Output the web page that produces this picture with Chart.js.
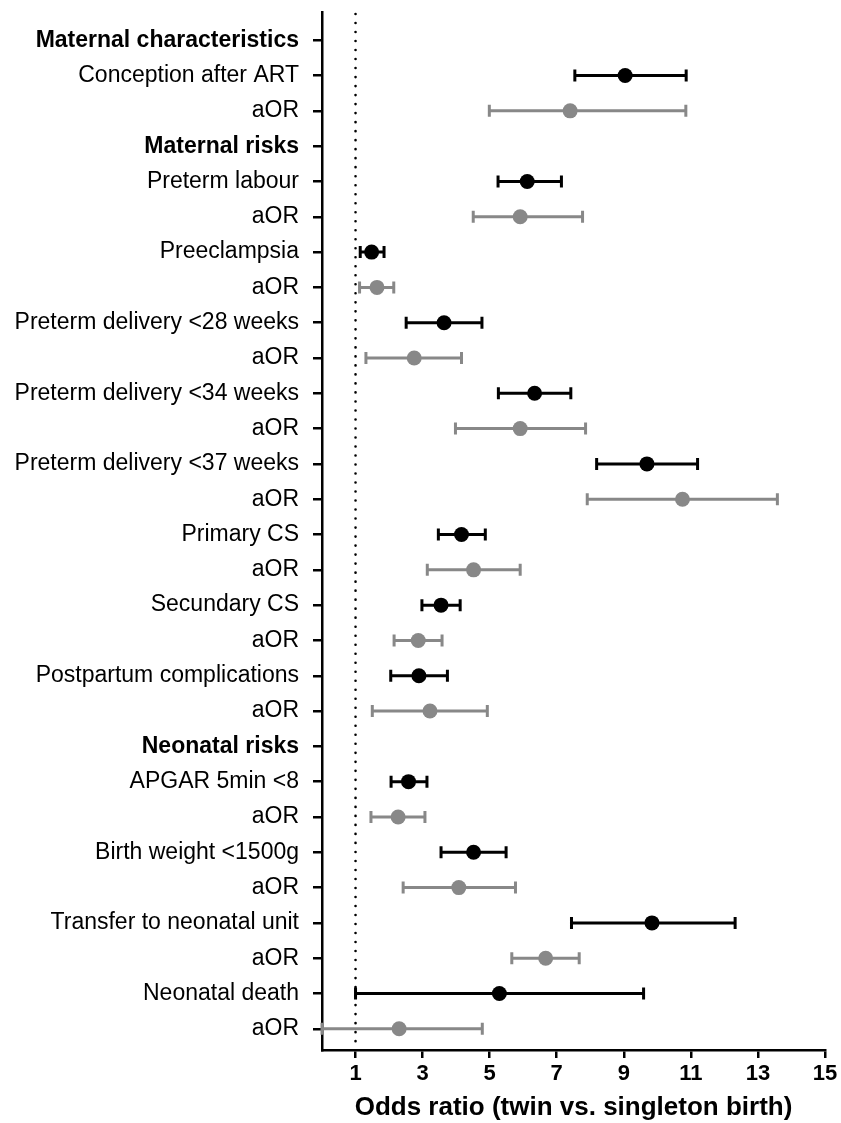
<!DOCTYPE html>
<html>
<head>
<meta charset="utf-8">
<script src="https://cdn.jsdelivr.net/npm/chart.js@4.4.1/dist/chart.umd.min.js"></script>
<style>
  html, body { margin: 0; padding: 0; background: #fff; }
  #wrap { width: 841px; height: 1123px; }
</style>
</head>
<body>
<div id="wrap"><canvas id="forest"></canvas></div>
<script>
// row labels, top to bottom
const rowLabels = [
    'Maternal characteristics',
    'Conception after ART', 'aOR',
    'Maternal risks',
    'Preterm labour', 'aOR',
    'Preeclampsia', 'aOR',
    'Preterm delivery <28 weeks', 'aOR',
    'Preterm delivery <34 weeks', 'aOR',
    'Preterm delivery <37 weeks', 'aOR',
    'Primary CS', 'aOR',
    'Secundary CS', 'aOR',
    'Postpartum complications', 'aOR',
    'Neonatal risks',
    'APGAR 5min <8', 'aOR',
    'Birth weight <1500g', 'aOR',
    'Transfer to neonatal unit', 'aOR',
    'Neonatal death', 'aOR'
]
const headerRows = [0, 3, 20]

// crude odds ratios (black)
const crudeRows = [1, 4, 6, 8, 10, 12, 14, 16, 18, 21, 23, 25, 27]
const crudeOR   = [9.04, 6.12, 1.48, 3.64, 6.34, 9.69, 4.16, 3.55, 2.89, 2.58, 4.52, 9.84, 5.29]
const crudeLow  = [7.54, 5.25, 1.14, 2.51, 5.26, 8.19, 3.47, 2.98, 2.05, 2.06, 3.55, 7.44, 1.00]
const crudeHigh = [10.86, 7.14, 1.85, 4.77, 7.42, 11.2, 4.87, 4.12, 3.74, 3.13, 5.49, 12.32, 9.59]

// adjusted odds ratios (grey)
const adjRows = [2, 5, 7, 9, 11, 13, 15, 17, 19, 22, 24, 26, 28]
const adjOR   = [7.40, 5.91, 1.64, 2.75, 5.91, 10.75, 4.52, 2.87, 3.22, 2.27, 4.08, 6.67, 2.30]
const adjLow  = [4.99, 4.51, 1.12, 1.31, 3.98, 7.91, 3.14, 2.15, 1.50, 1.46, 2.42, 5.66, 0.00]
const adjHigh = [10.85, 7.77, 2.14, 4.16, 7.86, 13.58, 5.91, 3.58, 4.93, 3.07, 5.77, 7.67, 4.78]

const xTicks = [1, 3, 5, 7, 9, 11, 13, 15]
const refLine = 1

const FONT = "'Liberation Sans', Arial, Helvetica, sans-serif"
const GREY = '#888888'

const toPoints = (rows, est, lo, hi) =>
    rows.map((r, i) => ({ x: est[i], y: r, lo: lo[i], hi: hi[i] }))

// dotted reference line + whiskers, drawn under the points
const forestPlugin = {
    id: 'forest',
    beforeDatasetsDraw(chart) {
        const { ctx, chartArea, scales: { x, y } } = chart
        ctx.save()

        const xr = x.getPixelForValue(refLine)
        ctx.strokeStyle = '#000'
        ctx.lineWidth = 2.6
        ctx.lineCap = 'round'
        ctx.setLineDash([0.01, 9])
        ctx.beginPath()
        ctx.moveTo(xr, chartArea.top + 2)
        ctx.lineTo(xr, chartArea.bottom)
        ctx.stroke()
        ctx.setLineDash([])
        ctx.lineCap = 'butt'

        chart.data.datasets.forEach(ds => {
            ctx.strokeStyle = ds.borderColor
            ctx.lineWidth = 3
            ds.data.forEach(p => {
                const py = y.getPixelForValue(p.y)
                const x1 = x.getPixelForValue(p.lo)
                const x2 = x.getPixelForValue(p.hi)
                ctx.beginPath()
                ctx.moveTo(x1, py)
                ctx.lineTo(x2, py)
                ctx.moveTo(x1, py - 6)
                ctx.lineTo(x1, py + 6)
                ctx.moveTo(x2, py - 6)
                ctx.lineTo(x2, py + 6)
                ctx.stroke()
            })
        })
        ctx.restore()
    }
}

new Chart(document.getElementById('forest'), {
    type: 'scatter',
    data: {
        datasets: [
            {
                label: 'OR',
                data: toPoints(crudeRows, crudeOR, crudeLow, crudeHigh),
                backgroundColor: '#000',
                borderColor: '#000',
                pointRadius: 7.5,
                pointBorderWidth: 0
            },
            {
                label: 'aOR',
                data: toPoints(adjRows, adjOR, adjLow, adjHigh),
                backgroundColor: GREY,
                borderColor: GREY,
                pointRadius: 7.5,
                pointBorderWidth: 0
            }
        ]
    },
    options: {
        responsive: true,
        maintainAspectRatio: false,
        animation: false,
        layout: { padding: { top: 12, right: 16, bottom: 0, left: 0 } },
        plugins: {
            legend: { display: false },
            tooltip: { enabled: false }
        },
        scales: {
            x: {
                type: 'linear',
                min: 0,
                max: 15,
                afterBuildTicks: axis => { axis.ticks = xTicks.map(v => ({ value: v })) },
                afterFit: axis => { axis.height = 73 },
                border: { display: true, color: '#000', width: 2.5 },
                grid: { display: true, drawOnChartArea: false, drawTicks: true, tickLength: 8, color: '#000', lineWidth: 2.5 },
                ticks: {
                    color: '#000',
                    padding: 3,
                    maxRotation: 0,
                    font: { family: FONT, size: 22, weight: 'bold' }
                },
                title: {
                    display: true,
                    text: 'Odds ratio (twin vs. singleton birth)',
                    color: '#000',
                    padding: { top: 2, bottom: 0 },
                    font: { family: FONT, size: 26, weight: 'bold' }
                }
            },
            y: {
                type: 'linear',
                reverse: true,
                min: -0.8,
                max: 28.6,
                afterBuildTicks: axis => { axis.ticks = rowLabels.map((_, i) => ({ value: i })) },
                afterFit: axis => {
                    axis.width = 322
                    axis.paddingTop = 0
                    axis.paddingBottom = 0
                },
                border: { display: true, color: '#000', width: 2.5 },
                grid: { display: true, drawOnChartArea: false, drawTicks: true, tickLength: 9, color: '#000', lineWidth: 2.5 },
                ticks: {
                    color: '#000',
                    padding: 14,
                    autoSkip: false,
                    callback: v => rowLabels[v],
                    font: ctx => ({
                        family: FONT,
                        size: 23,
                        weight: ctx.tick && headerRows.includes(ctx.tick.value) ? 'bold' : 'normal'
                    })
                }
            }
        }
    },
    plugins: [forestPlugin]
})
</script>
</body>
</html>
